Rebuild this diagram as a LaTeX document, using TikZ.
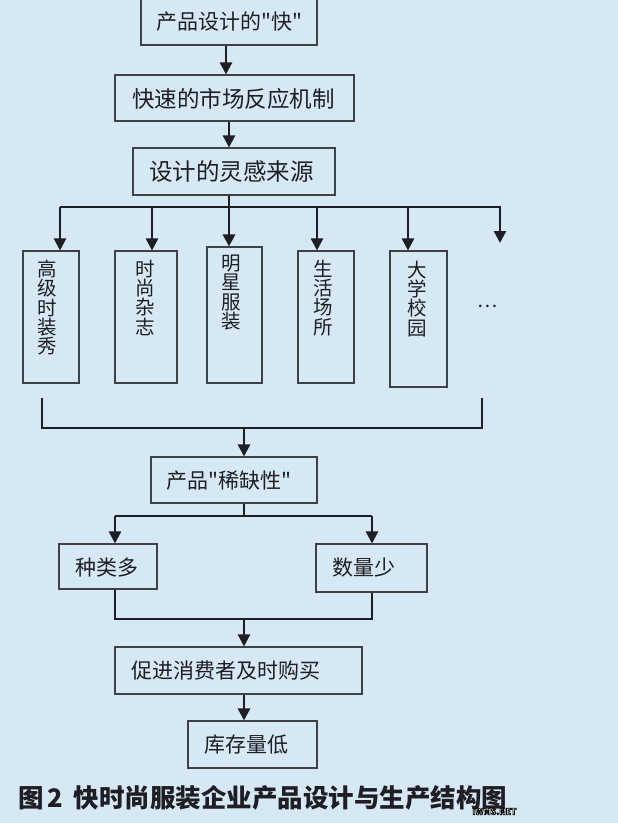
\documentclass[tikz,border=0pt]{standalone}
\usepackage{fontspec}
\setmainfont{Noto Sans CJK SC}[Ligatures=TeXOff]
\usetikzlibrary{arrows.meta}
\definecolor{bg}{HTML}{D5E8F4}
\definecolor{ink}{HTML}{1E1E24}
\tikzset{
  box/.style={draw=ink!85, line width=1.1pt, rectangle, inner sep=0pt},
  txt/.style={text=ink, inner sep=0pt, font=\fontsize{21}{21}\selectfont},
  vtxt/.style={text=ink, inner sep=0pt, align=center, anchor=north, font=\fontsize{19.5}{19.2}\selectfont},
  arr/.style={draw=ink, line width=2.4pt, -{Triangle[width=12pt,length=12pt]}},
  ln/.style={draw=ink, line width=2.2pt},
  thin/.style={draw=ink, line width=1.5pt}
}
\begin{document}
\begin{tikzpicture}[x=1pt,y=-1pt]
\fill[bg] (0,0) rectangle (618,823);
\useasboundingbox (0,0) rectangle (618,823);
% boxes: centre, size
\node[box, minimum width=176pt, minimum height=47pt] (b1) at (229,21.5) {};
\node[box, minimum width=239pt, minimum height=46pt] (b2) at (234.5,98) {};
\node[box, minimum width=202pt, minimum height=47pt] (b3) at (234,171.5) {};
\node[box, minimum width=56pt, minimum height=132pt] (A) at (51,317) {};
\node[box, minimum width=62pt, minimum height=132pt] (B) at (146,317) {};
\node[box, minimum width=55pt, minimum height=136pt] (C) at (234.5,315) {};
\node[box, minimum width=56pt, minimum height=132pt] (D) at (326,317) {};
\node[box, minimum width=57pt, minimum height=136pt] (E) at (418.5,319) {};
\node[box, minimum width=166pt, minimum height=46pt] (F) at (234,480) {};
\node[box, minimum width=98pt, minimum height=45pt] (G) at (108,566.5) {};
\node[box, minimum width=111pt, minimum height=48pt] (H) at (371.5,568) {};
\node[box, minimum width=247pt, minimum height=47pt] (I) at (238.5,670.5) {};
\node[box, minimum width=129pt, minimum height=47pt] (J) at (252.5,744.5) {};
% texts
\node[txt, anchor=west] (t1) at (156,22) {产品设计的"快"};
\node[txt, anchor=west, font=\fontsize{22.5}{22.5}\selectfont] (t2) at (132,99) {快速的市场反应机制};
\node[txt, anchor=west, font=\fontsize{23.5}{23.5}\selectfont] (t3) at (149,172) {设计的灵感来源};
\node[vtxt] (tA) at (47,260) {高\\级\\时\\装\\秀};
\node[vtxt] (tB) at (145,260) {时\\尚\\杂\\志};
\node[vtxt] (tC) at (231,255) {明\\星\\服\\装};
\node[vtxt] (tD) at (323,260) {生\\活\\场\\所};
\node[vtxt] (tE) at (417,261) {大\\学\\校\\园};
\node[txt, font=\fontsize{19}{19}\selectfont] (dots) at (488,306) {…};
\node[txt, anchor=west] (tF) at (166,481) {产品"稀缺性"};
\node[txt, anchor=west] (tG) at (75,568) {种类多};
\node[txt, anchor=west] (tH) at (332,568) {数量少};
\node[txt, anchor=west] (tI) at (131,671) {促进消费者及时购买};
\node[txt, anchor=west] (tJ) at (204,745) {库存量低};
\node[text=ink, inner sep=0pt, anchor=west, font=\fontsize{25.5}{25.5}\selectfont\bfseries] (cap) at (18,798) {图\,2\, 快时尚服装企业产品设计与生产结构图};
% watermark
\node[text=white, inner sep=0pt, font=\fontsize{8.5}{8.5}\selectfont\bfseries] (wm) at (494.5,811.5) {\special{pdf:literal direct 0 G 2 Tr 0.7 w}IWMS.NET\special{pdf:literal direct 0 Tr}};
% spine coordinates
\coordinate (s1) at (226,0);
\coordinate (s2) at (229,0);
\coordinate (s3) at (244,0);
\coordinate (bus) at (0,207);
\coordinate (xa) at (60,0);
\coordinate (xb) at (152,0);
\coordinate (xd) at (317,0);
\coordinate (xe) at (408,0);
\coordinate (xr) at (500,0);
\coordinate (rend) at (500,243);
\coordinate (busL) at (60,207);
\coordinate (busM) at (353,207);
\coordinate (busR) at (501,207);
% connectors
\draw[arr] (b1.south -| s1) -- (b2.north -| s1);
\draw[arr] (b2.south -| s2) -- (b3.north -| s2);
\draw[thin] (busL) -- (busM);
\draw[ln, line width=2.6pt] (busM) -- (busR);
\draw[arr, line width=2.8pt] (b3.south -| s2) -- (C.north -| s2);
\draw[arr] (busL) -- (A.north -| xa);
\draw[arr] (bus -| xb) -- (B.north -| xb);
\draw[arr] (bus -| xd) -- (D.north -| xd);
\draw[arr] (bus -| xe) -- (E.north -| xe);
\draw[arr] (bus -| xr) -- (rend);
% bottom bracket
\coordinate (brL) at (42,398);
\coordinate (brR) at (482,398);
\coordinate (brY) at (0,428);
\draw[ln] (brL) -- (brL |- brY) -- (brR |- brY) -- (brR);
\draw[arr] (brY -| s3) -- (F.north -| s3);
% F to G/H
\coordinate (fy) at (0,516);
\coordinate (gx) at (115,0);
\coordinate (hx) at (372,0);
\draw[ln] (F.south -| s3) -- (fy -| s3);
\draw[ln] (fy -| gx) -- (fy -| hx);
\draw[arr] (fy -| gx) -- (G.north -| gx);
\draw[arr] (fy -| hx) -- (H.north -| hx);
\coordinate (gy) at (0,619);
\draw[ln] (G.south -| gx) -- (gy -| gx) -- (gy -| hx) -- (H.south -| hx);
\draw[arr] (gy -| s3) -- (I.north -| s3);
\draw[arr] (I.south -| s3) -- (J.north -| s3);
\end{tikzpicture}
\end{document}
